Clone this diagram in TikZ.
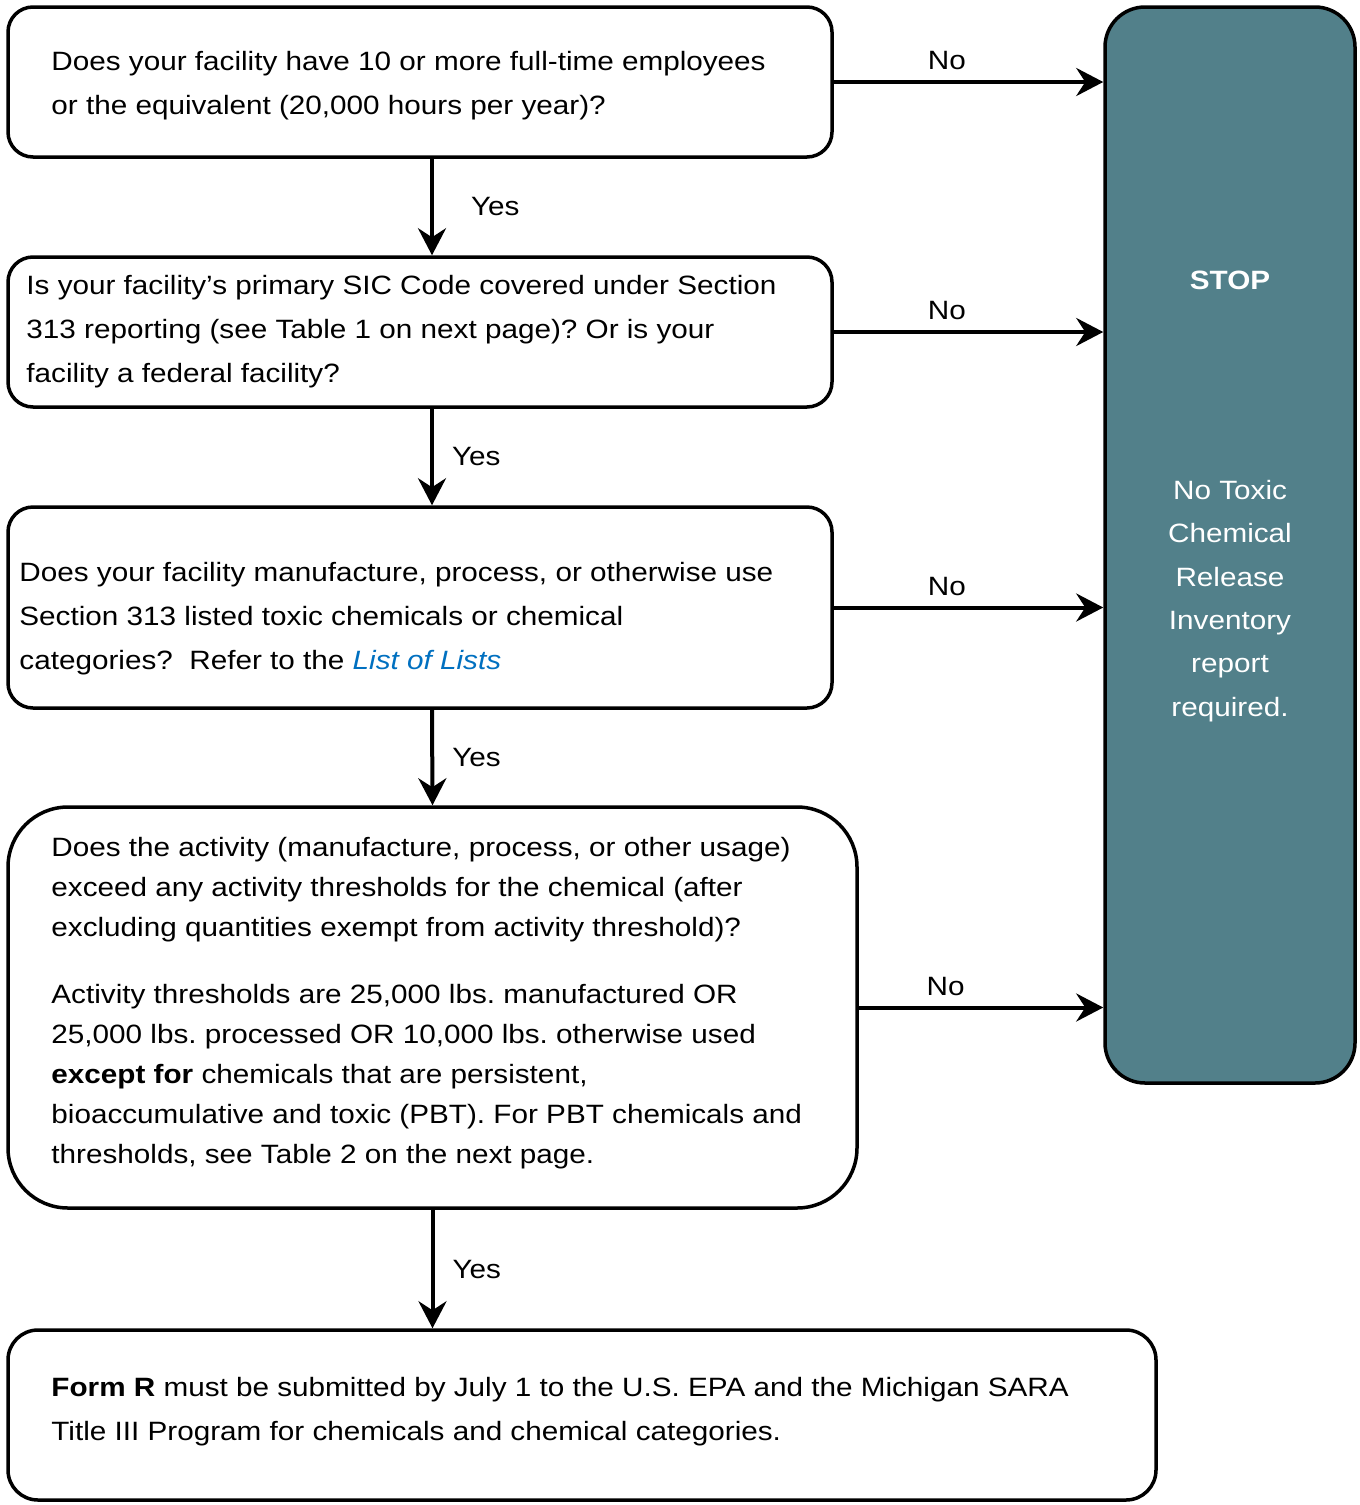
\documentclass[tikz,border=0pt]{standalone}
\usepackage{fontspec}
\setmainfont{Liberation Sans}[FakeStretch=1.12]
\usetikzlibrary{arrows.meta,positioning,calc}
\definecolor{cTeal}{HTML}{52808A}
\definecolor{cLink}{HTML}{0070C0}
\frenchspacing

\begin{document}
\begin{tikzpicture}[x=1pt, y=-1pt,
   font=\fontsize{26.5}{44}\selectfont, >=Stealth,
   ask/.style={draw=black, fill=white, rounded corners=25pt, line width=3.5pt},
   asktext/.style={anchor=west, align=left, inner sep=0pt},
   stopbox/.style={draw=black, fill=cTeal, rounded corners=40pt, line width=3.5pt,
                   minimum width=250pt, minimum height=1076pt},
   arr/.style={->, line width=4pt, arrows={-Stealth[length=27pt,width=28pt,inset=9pt]}},
   lbl/.style={inner sep=0pt, font=\fontsize{26.5}{30}\selectfont}]
  \useasboundingbox (0,0) rectangle (1360,1505);
  % question boxes
  \node[ask, minimum width=824pt, minimum height=150pt] (q1) at (420,82) {};
  \node[asktext] (q1text) at ([xshift=45pt,yshift=-4pt]q1.west)
    {Does your facility have 10 or more full-time employees\\ or the equivalent (20,000 hours per year)?};
  \node[ask, minimum width=824pt, minimum height=150pt] (q2) at (420,332) {};
  \node[asktext] (q2text) at ([xshift=20pt]q2.west)
    {Is your facility’s primary SIC Code covered under Section\\ 313 reporting (see Table 1 on next page)? Or is your\\ facility a federal facility?};
  \node[ask, minimum width=824pt, minimum height=201pt] (q3) at (420,607.5) {};
  \node[asktext] (q3text) at ([xshift=13pt,yshift=-11pt]q3.west)
    {Does your facility manufacture, process, or otherwise use\\ Section 313 listed toxic chemicals or chemical\\ categories?\ \ Refer to the {\color{cLink}\itshape List of Lists}};
  \node[ask, rounded corners=60pt, minimum width=849pt, minimum height=401pt] (q4) at (432.5,1007.5) {};
  \node[asktext, font=\fontsize{26.5}{40}\selectfont] (q4text) at ([xshift=45pt,yshift=4pt]q4.west)
    {Does the activity (manufacture, process, or other usage)\\ exceed any activity thresholds for the chemical (after\\ excluding quantities exempt from activity threshold)?\\[27pt]
     Activity thresholds are 25,000 lbs. manufactured OR\\ 25,000 lbs. processed OR 10,000 lbs. otherwise used\\ \textbf{except for} chemicals that are persistent,\\ bioaccumulative and toxic (PBT). For PBT chemicals and\\ thresholds, see Table 2 on the next page.};
  \node[ask, rounded corners=30pt, minimum width=1148pt, minimum height=170pt] (formr) at (582,1415) {};
  \node[asktext] (formrtext) at ([xshift=45pt,yshift=3pt]formr.west)
    {\textbf{Form R} must be submitted by July 1 to the U.S. EPA and the Michigan SARA\\ Title III Program for chemicals and chemical categories.};
  % stop box
  \node[stopbox] (stop) at (1230,545) {};
  \node[text=white, font=\fontsize{26.5}{30}\selectfont\bfseries] (stoptitle) at (1230,280) {STOP};
  \node[text=white, align=center, font=\fontsize{26.5}{43.4}\selectfont] (stoptext) at (1230,601)
    {No Toxic\\ Chemical\\ Release\\ Inventory\\ report\\ required.};
  % yes arrows
  \draw[arr] ([xshift=12pt]q1.south) -- ([xshift=12pt]q2.north)
     node[lbl, midway, right=37pt] {Yes};
  \draw[arr] ([xshift=12pt]q2.south) -- ([xshift=12pt]q3.north)
     node[lbl, midway, right=18pt] {Yes};
  \draw[arr] ([xshift=12pt]q3.south) -- (q4.north)
     node[lbl, midway, right=18pt] {Yes};
  \draw[arr] (q4.south) -- (q4.south |- formr.north)
     node[lbl, midway, right=18pt] {Yes};
  % no arrows
  \draw[arr] (q1.east) -- (q1.east -| stop.west) node[lbl, pos=0.42, above=10pt] {No};
  \draw[arr] (q2.east) -- (q2.east -| stop.west) node[lbl, pos=0.42, above=10pt] {No};
  \draw[arr] (q3.east) -- (q3.east -| stop.west) node[lbl, pos=0.42, above=10pt] {No};
  \draw[arr] (q4.east) -- (q4.east -| stop.west) node[lbl, pos=0.355, above=10pt] {No};
\end{tikzpicture}
\end{document}
